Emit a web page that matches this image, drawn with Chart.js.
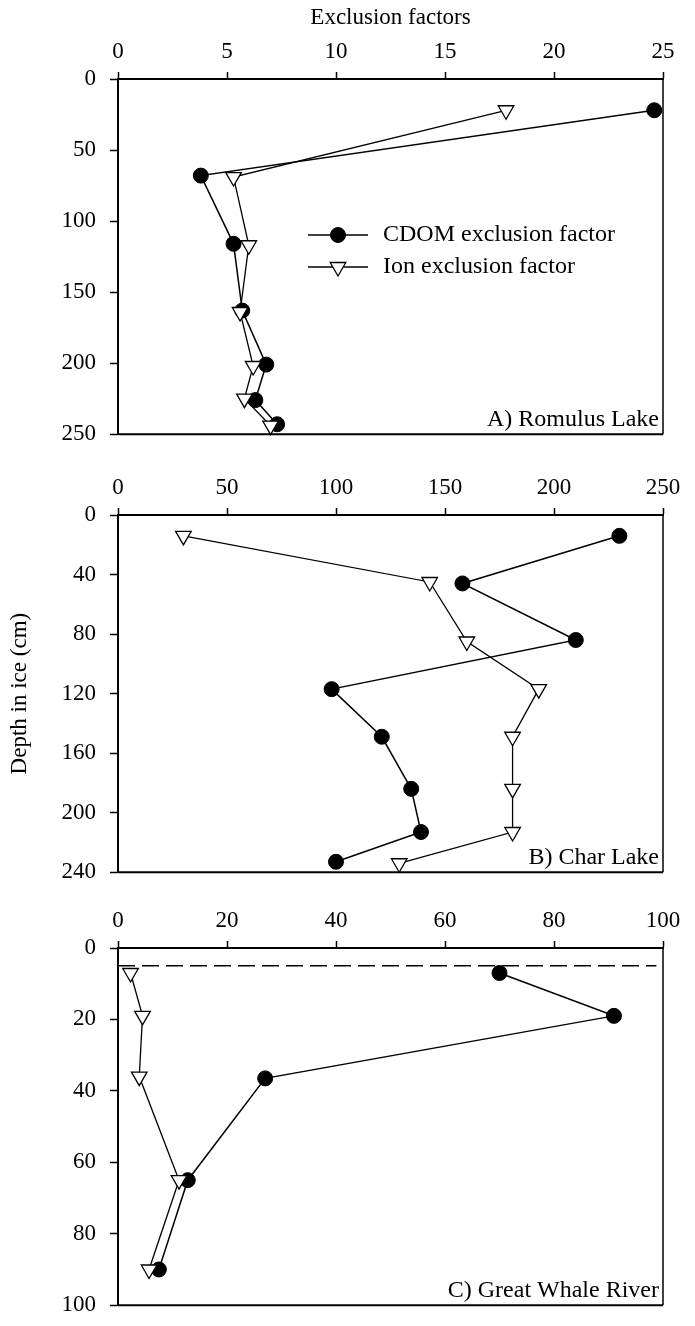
<!DOCTYPE html>
<html>
<head>
<meta charset="utf-8">
<script src="https://cdn.jsdelivr.net/npm/chart.js@4.4.1/dist/chart.umd.min.js"></script>
<style>
  body { margin: 0; background: #fff; }
  .panel { position: absolute; left: 0; }
  canvas { display: block; }
</style>
</head>
<body>
<div class="panel" style="top:0px"><canvas id="chartA" width="695" height="462"></canvas></div>
<div class="panel" style="top:462px"><canvas id="chartB" width="695" height="438"></canvas></div>
<div class="panel" style="top:900px"><canvas id="chartC" width="695" height="433"></canvas></div>
<script>
// A) Romulus Lake
const romulusCdomDepth = [22, 68, 116, 163, 201, 226, 243];
const romulusCdom = [24.6, 3.8, 5.3, 5.7, 6.8, 6.3, 7.3];
const romulusIonDepth = [22, 69, 117, 164, 202, 225, 244];
const romulusIon = [17.8, 5.3, 6.0, 5.6, 6.2, 5.8, 7.0];

// B) Char Lake
const charCdomDepth = [14, 46, 84, 117, 149, 184, 213, 233];
const charCdom = [230, 158, 210, 98, 121, 134.5, 139, 100];
const charIonDepth = [14, 45, 85, 117, 149, 184, 213, 234];
const charIon = [30, 143, 160, 193, 181, 181, 181, 129];

// C) Great Whale River
const whaleCdomDepth = [7, 19, 36.5, 65, 90];
const whaleCdom = [70, 91, 27, 12.8, 7.5];
const whaleIonDepth = [7, 19, 36, 65, 90];
const whaleIon = [2.3, 4.5, 3.9, 11.2, 5.7];
const whaleSurfaceX = [0, 98.8];
const whaleSurfaceDepth = [5, 5];

const seriesNames = ["CDOM exclusion factor", "Ion exclusion factor"];
const panelNames = ["A) Romulus Lake", "B) Char Lake", "C) Great Whale River"];
const xTitle = "Exclusion factors";
const yTitle = "Depth in ice (cm)";

Chart.defaults.font.family = '"Liberation Serif", "Times New Roman", serif';
Chart.defaults.font.size = 23;
Chart.defaults.color = "#000";

const toPoints = (xs, ys) => xs.map((v, i) => ({ x: v, y: ys[i] }));

// right and bottom sides of the box, plus the panel name
const framePlugin = {
  id: "frame",
  beforeDatasetsDraw(chart, args, opts) {
    const { ctx, chartArea: a } = chart;
    ctx.save();
    ctx.strokeStyle = "#000";
    ctx.lineWidth = 2;
    ctx.beginPath();
    ctx.moveTo(a.left, a.bottom);
    ctx.lineTo(a.right, a.bottom);
    ctx.stroke();
    ctx.lineWidth = 1.5;
    ctx.beginPath();
    ctx.moveTo(a.right, a.bottom);
    ctx.lineTo(a.right, a.top);
    ctx.stroke();
    ctx.fillStyle = "#000";
    ctx.font = '24px "Liberation Serif", serif';
    ctx.textAlign = "right";
    ctx.textBaseline = "alphabetic";
    ctx.fillText(opts.name, a.right - 4, a.bottom - 8);
    ctx.restore();
  },
};

// line + marker legend inside the plot
const sampleLegend = {
  id: "sampleLegend",
  afterDatasetsDraw(chart, args, opts) {
    if (!opts.show) return;
    const { ctx, chartArea: a } = chart;
    const x0 = a.left + opts.x;
    let y = a.top + opts.y;
    ctx.save();
    chart.data.datasets.slice().sort((p, q) => q.order - p.order).forEach((ds) => {
      if (!ds.label) return;
      ctx.strokeStyle = "#000";
      ctx.lineWidth = 1.5;
      ctx.beginPath();
      ctx.moveTo(x0, y);
      ctx.lineTo(x0 + 60, y);
      ctx.stroke();
      ctx.fillStyle = ds.pointBackgroundColor;
      ctx.strokeStyle = "#000";
      ctx.lineWidth = ds.pointBorderWidth;
      Chart.helpers.drawPoint(ctx, {
        pointStyle: ds.pointStyle,
        rotation: ds.pointRotation || 0,
        radius: ds.pointRadius,
        borderWidth: ds.pointBorderWidth,
      }, x0 + 30, y);
      ctx.fillStyle = "#000";
      ctx.font = '24px "Liberation Serif", serif';
      ctx.textAlign = "left";
      ctx.textBaseline = "middle";
      ctx.fillText(ds.label, x0 + 75, y);
      y += 32;
    });
    ctx.restore();
  },
};

function cdomSet(points) {
  return {
    label: seriesNames[0],
    data: points,
    showLine: true,
    borderColor: "#000",
    borderWidth: 1.5,
    pointStyle: "circle",
    pointRadius: 7.5,
    pointBackgroundColor: "#000",
    pointBorderColor: "#000",
    pointBorderWidth: 1,
    clip: false,
    order: 2,
  };
}

function ionSet(points) {
  return {
    label: seriesNames[1],
    data: points,
    showLine: true,
    borderColor: "#000",
    borderWidth: 1.3,
    pointStyle: "triangle",
    pointRotation: 180,
    pointRadius: 9,
    pointBackgroundColor: "#fff",
    pointBorderColor: "#000",
    pointBorderWidth: 1.3,
    clip: false,
    order: 1,
  };
}

function makePanel(id, cfg) {
  const ctx = document.getElementById(id).getContext("2d");
  return new Chart(ctx, {
    type: "scatter",
    data: { datasets: cfg.datasets },
    plugins: [framePlugin, sampleLegend],
    options: {
      responsive: false,
      animation: false,
      layout: { padding: { top: 0, right: 32, bottom: 16, left: 0 } },
      plugins: {
        legend: { display: false },
        tooltip: { enabled: false },
        frame: { name: cfg.name },
        sampleLegend: cfg.legend || { show: false },
      },
      scales: {
        x: {
          type: "linear",
          position: "top",
          min: cfg.xMin,
          max: cfg.xMax,
          afterFit: (scale) => { scale.height = cfg.xHeight; },
          ticks: { stepSize: cfg.xStep, padding: 6, maxRotation: 0 },
          grid: { drawOnChartArea: false, tickLength: 7, tickColor: "#000", tickWidth: 1.5 },
          border: { display: true, color: "#000", width: 2 },
          title: {
            display: !!cfg.xTitle,
            text: cfg.xTitle || "",
            font: { size: 23 },
            padding: { top: 4, bottom: 4 },
          },
        },
        y: {
          type: "linear",
          reverse: true,
          min: 0,
          max: cfg.yMax,
          afterFit: (scale) => { scale.width = 118; },
          ticks: { stepSize: cfg.yStep, padding: 14 },
          grid: { drawOnChartArea: false, tickLength: 8, tickColor: "#000", tickWidth: 1.5 },
          border: { display: true, color: "#000", width: 2 },
          title: {
            display: !!cfg.yTitle,
            text: cfg.yTitle || "",
            font: { size: 23 },
            padding: { top: 6, bottom: 0 },
          },
        },
      },
    },
  });
}

makePanel("chartA", {
  name: panelNames[0],
  xMin: 0, xMax: 25, xStep: 5, yMax: 250, yStep: 50,
  xHeight: 79,
  xTitle: xTitle,
  legend: { show: true, x: 190, y: 156 },
  datasets: [
    cdomSet(toPoints(romulusCdom, romulusCdomDepth)),
    ionSet(toPoints(romulusIon, romulusIonDepth)),
  ],
});

makePanel("chartB", {
  name: panelNames[1],
  xMin: 0, xMax: 250, xStep: 50, yMax: 240, yStep: 40,
  xHeight: 53,
  yTitle: yTitle,
  datasets: [
    cdomSet(toPoints(charCdom, charCdomDepth)),
    ionSet(toPoints(charIon, charIonDepth)),
  ],
});

makePanel("chartC", {
  name: panelNames[2],
  xMin: 0, xMax: 100, xStep: 20, yMax: 100, yStep: 20,
  xHeight: 48,
  datasets: [
    cdomSet(toPoints(whaleCdom, whaleCdomDepth)),
    ionSet(toPoints(whaleIon, whaleIonDepth)),
    {
      label: "",
      data: toPoints(whaleSurfaceX, whaleSurfaceDepth),
      showLine: true,
      borderColor: "#000",
      borderWidth: 1.5,
      borderDash: [17, 7],
      pointRadius: 0,
      clip: false,
      order: 3,
    },
  ],
});
</script>
</body>
</html>
